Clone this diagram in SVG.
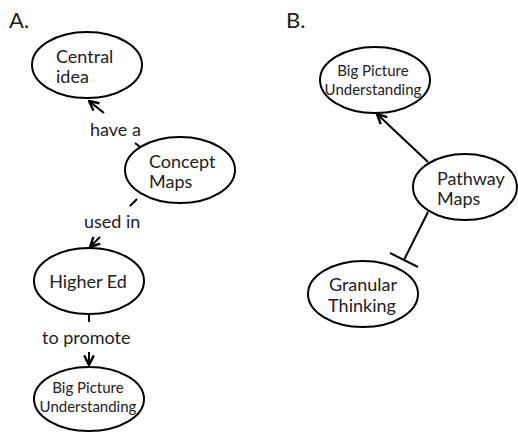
<svg xmlns="http://www.w3.org/2000/svg" width="518" height="432" viewBox="0 0 518 432">
<style>
.node{fill:#fff;stroke:#000;stroke-width:2}
.t{font-family:Lato,"Open Sans","DejaVu Sans",sans-serif;font-size:18px;fill:#222}
.s{font-size:15px}
.h{font-family:Lato,"Open Sans","DejaVu Sans",sans-serif;font-size:22px;fill:#222}
.c{fill:none;stroke:#000;stroke-width:2}
</style>
<defs>
<marker id="arr" markerUnits="userSpaceOnUse" markerWidth="12" markerHeight="12" viewBox="0 0 10 10" refX="9" refY="5" orient="auto">
<path d="M1,1 L9,5 L1,9" fill="none" stroke="#000" stroke-width="2"/>
</marker>
</defs>
<text class="h" x="9" y="28">A.</text>
<text class="h" x="286" y="28">B.</text>
<g id="connectors">
<path class="c" d="M140,147 L135,143 M104,113 L89,101" marker-end="url(#arr)"/>
<path class="c" d="M137,199 L130,206 M100,237 L90,247" marker-end="url(#arr)"/>
<path class="c" d="M89,315 L89,322 M89,352 L89,365" marker-end="url(#arr)"/>
<path class="c" d="M428,162 L377,114" marker-end="url(#arr)"/>
<path class="c" d="M428,212 L404,260 M390,253 L418,267"/>
</g>
<g id="labels">
<text class="t" x="90" y="136">have a</text>
<text class="t" x="84" y="228">used in</text>
<text class="t" x="42" y="344">to promote</text>
</g>
<g id="central-idea">
<ellipse class="node" cx="87" cy="65" rx="55" ry="33"/>
<text class="t" x="56" y="63">Central</text>
<text class="t" x="56" y="83">idea</text>
</g>
<g id="concept-maps">
<ellipse class="node" cx="180" cy="170" rx="55" ry="33"/>
<text class="t" x="149" y="168">Concept</text>
<text class="t" x="149" y="188">Maps</text>
</g>
<g id="higher-ed">
<ellipse class="node" cx="89" cy="281" rx="55" ry="33"/>
<text class="t" x="88" y="288" text-anchor="middle">Higher Ed</text>
</g>
<g id="big-picture-a">
<ellipse class="node" cx="89" cy="399" rx="55" ry="32"/>
<text class="t s" x="88" y="393" text-anchor="middle">Big Picture</text>
<text class="t s" x="88" y="412" text-anchor="middle">Understanding</text>
</g>
<g id="big-picture-b">
<ellipse class="node" cx="375" cy="80" rx="55" ry="33"/>
<text class="t s" x="373" y="76" text-anchor="middle">Big Picture</text>
<text class="t s" x="373" y="95" text-anchor="middle">Understanding</text>
</g>
<g id="pathway-maps">
<ellipse class="node" cx="465" cy="187" rx="52" ry="33"/>
<text class="t" x="437" y="185">Pathway</text>
<text class="t" x="437" y="205">Maps</text>
</g>
<g id="granular-thinking">
<ellipse class="node" cx="363" cy="294" rx="55" ry="33"/>
<text class="t" x="363" y="291" text-anchor="middle">Granular</text>
<text class="t" x="362" y="312" text-anchor="middle">Thinking</text>
</g>
</svg>
